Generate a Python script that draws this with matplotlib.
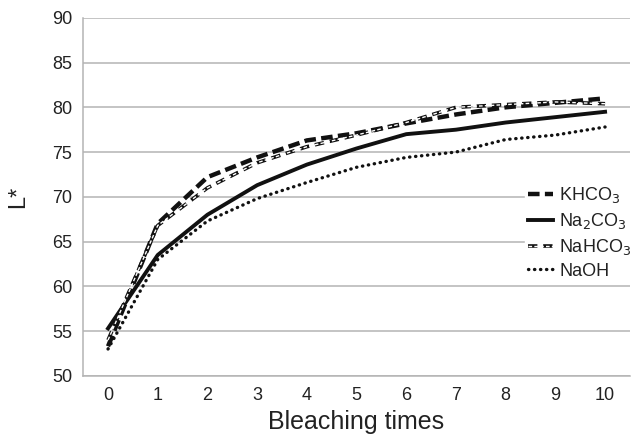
import matplotlib.pyplot as plt
from matplotlib.lines import Line2D

plt.rcParams['font.family'] = ['Liberation Sans', 'DejaVu Sans']

times = [0, 1, 2, 3, 4, 5, 6, 7, 8, 9, 10]
khco3 = [53.3, 67.0, 72.2, 74.4, 76.3, 77.1, 78.2, 79.2, 80.0, 80.5, 81.0]
na2co3 = [55.3, 63.5, 68.0, 71.3, 73.6, 75.4, 77.0, 77.5, 78.3, 78.9, 79.5]
nahco3 = [54.0, 66.8, 71.0, 73.8, 75.6, 76.9, 78.3, 80.0, 80.3, 80.6, 80.4]
naoh = [53.0, 63.0, 67.3, 69.8, 71.6, 73.3, 74.4, 75.0, 76.4, 76.9, 77.8]

fig = plt.figure(figsize=(6.35, 4.34), dpi=100)
ax = fig.add_axes([0.131, 0.134, 0.861, 0.825])

# grid first
ax.set_ylim(50, 90)
ax.set_xlim(-0.5, 10.5)
ax.set_yticks(range(50, 91, 5))
ax.set_xticks(times)
ax.yaxis.grid(True, color='#b4b4b4', lw=1.1)
ax.set_axisbelow(True)
for s in ['top', 'right']:
    ax.spines[s].set_visible(False)
ax.spines['left'].set_color('#b4b4b4')
ax.spines['bottom'].set_color('#b4b4b4')
ax.spines['left'].set_linewidth(1.1)
ax.spines['bottom'].set_linewidth(1.1)
ax.tick_params(length=0, labelsize=13, colors='#222222', pad=8)

l1, = ax.plot(times, khco3, color='#111111', lw=3.2, dashes=(2.6, 1.2))
l2, = ax.plot(times, na2co3, color='#111111', lw=2.8)
l3a, = ax.plot(times, nahco3, color='#111111', lw=2.6, dashes=(2.6, 1.6))
l3b, = ax.plot(times, nahco3, color='white', lw=1.0, dashes=(2.6, 1.6))
l4, = ax.plot(times, naoh, color='#111111', lw=2.4, linestyle=(0, (0.1, 1.7)),
              dash_capstyle='round')

ax.set_xlabel('Bleaching times', fontsize=18, labelpad=4, color='#222222')
ax.set_ylabel('L*', fontsize=17, labelpad=16, color='#222222')

leg = ax.legend([l1, l2, (l3a, l3b), l4],
                ['KHCO$_3$', 'Na$_2$CO$_3$', 'NaHCO$_3$', 'NaOH'],
                loc='center left', bbox_to_anchor=(0.808, 0.40), frameon=True,
                fontsize=13, handlelength=1.4, handletextpad=0.35,
                labelspacing=0.32, borderpad=0.15, borderaxespad=0)
leg.get_frame().set_edgecolor('white')
leg.get_frame().set_facecolor('white')
leg.get_frame().set_alpha(1)
for t in leg.get_texts():
    t.set_color('#222222')

fig.savefig('out.png', dpi=100)
